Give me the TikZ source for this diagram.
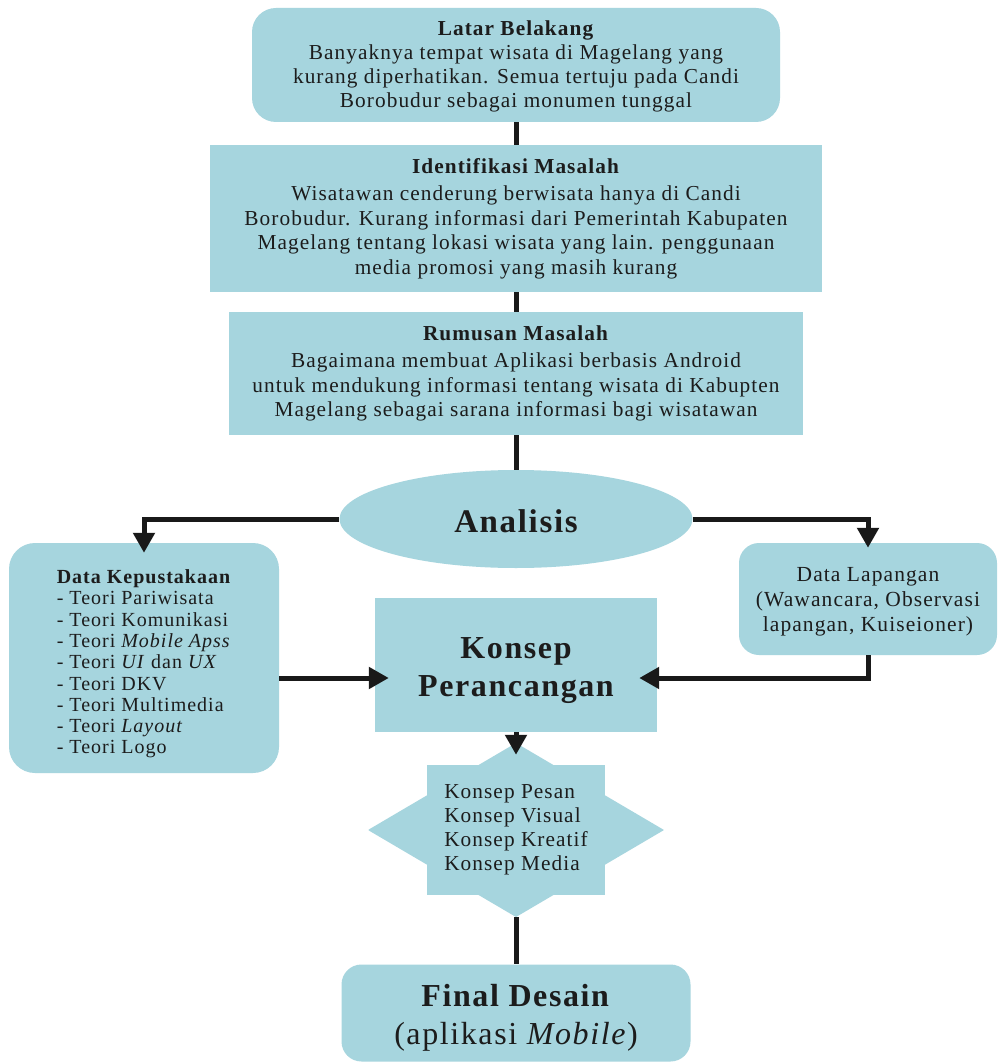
\documentclass[tikz,border=0pt]{standalone}
\usepackage{fontspec}
\setmainfont{Liberation Serif}[LetterSpace=5]
\usetikzlibrary{shapes.geometric,arrows.meta,calc}
\definecolor{boxblue}{RGB}{166,213,222}
\definecolor{ink}{RGB}{28,28,28}
\begin{document}
\begin{tikzpicture}[x=1pt,y=-1pt,
  base/.style={fill=boxblue, inner sep=0pt},
  txt/.style={text=ink, inner sep=0pt, align=center},
  main/.style={txt, font=\fontsize{21.3}{24.5}\selectfont},
  big/.style={txt, font=\fontsize{32}{38}\selectfont},
  conn/.style={line width=5pt, draw=black!90},
  arr/.style={conn, -{Triangle[width=21pt,length=20pt]}}]
\useasboundingbox[fill=white] (0,0) rectangle (997,1064);

% boxes
\node[base, rounded corners=24pt, minimum width=528pt, minimum height=114pt] (b1) at (516,65) {};
\node[base, minimum width=612pt, minimum height=147pt] (b2) at (516,218.5) {};
\node[base, minimum width=574pt, minimum height=123pt] (b3) at (516,373.5) {};
\node[base, ellipse, minimum width=353pt, minimum height=98pt] (ana) at (516,519) {};
\node[base, rounded corners=26pt, minimum width=270pt, minimum height=230pt] (kep) at (144,658) {};
\node[base, rounded corners=20pt, minimum width=258pt, minimum height=112pt] (lap) at (868,599) {};
\node[base, minimum width=282pt, minimum height=134pt] (kp) at (516,665) {};
\node[base, fill=none, minimum width=295pt, minimum height=174pt,
  path picture={
    \coordinate (c) at (path picture bounding box.center);
    \fill[boxblue] ($(c)+(-89,-65)$) rectangle ($(c)+(89,65)$);
    \fill[boxblue] ($(c)+(0,-87)$) -- ($(c)+(148,0)$) -- ($(c)+(0,87)$) -- ($(c)+(-148,0)$) -- cycle;
  }] (star) at (516,830) {};
\node[base, rounded corners=20pt, minimum width=349pt, minimum height=97pt] (fin) at (516,1013) {};

% texts
\node[main, font=\fontsize{21.3}{24}\selectfont] (b1t) at ($(b1)+(0,1)$)
  {\textbf{Latar Belakang}\\Banyaknya tempat wisata di Magelang yang\\kurang diperhatikan. Semua tertuju pada Candi\\Borobudur sebagai monumen tunggal};
\node[main] (b2t) at (b2)
  {\textbf{Identifikasi Masalah}\\[3pt]Wisatawan cenderung berwisata hanya di Candi\\Borobudur. Kurang informasi dari Pemerintah Kabupaten\\Magelang tentang lokasi wisata yang lain. penggunaan\\media promosi yang masih kurang};
\node[main] (b3t) at (b3)
  {\textbf{Rumusan Masalah}\\[3pt]Bagaimana membuat Aplikasi berbasis Android\\untuk mendukung informasi tentang wisata di Kabupten\\Magelang sebagai sarana informasi bagi wisatawan};
\node[txt, font=\bfseries\fontsize{33}{38}\selectfont] (anat) at ($(ana)+(0,2)$) {Analisis};
\node[txt, align=left, font=\fontsize{20}{21.3}\selectfont] (kept) at ($(kep)+(0,6)$)
  {\textbf{Data Kepustakaan}\\- Teori Pariwisata\\- Teori Komunikasi\\- Teori \textit{Mobile Apss}\\- Teori \textit{UI} dan \textit{UX}\\- Teori DKV\\- Teori Multimedia\\- Teori \textit{Layout}\\- Teori Logo};
\node[txt, font=\fontsize{21.5}{25}\selectfont] (lapt) at ($(lap)+(0,3)$)
  {Data Lapangan\\(Wawancara, Observasi\\lapangan, Kuiseioner)};
\node[big, font=\bfseries\fontsize{32}{38}\selectfont] (kpt) at ($(kp)+(0,6)$)
  {Konsep\\Perancangan};
\node[txt, align=left, font=\fontsize{21.3}{24}\selectfont] (start) at (star)
  {Konsep Pesan\\Konsep Visual\\Konsep Kreatif\\Konsep Media};
\node[big] (fint) at ($(fin)+(0,5)$)
  {\textbf{Final Desain}\\(aplikasi \textit{Mobile})};

% connectors
\draw[conn] (b1.south) -- (b2.north);
\draw[conn] (b2.south) -- (b3.north);
\draw[conn] (b3.south) -- (ana.north);
\draw[arr, shorten >=-10pt] (ana.west) -| (kep.north);
\draw[arr, shorten >=-5pt] (ana.east) -| (lap.north);
\coordinate (m) at (516,678);
\draw[arr, shorten >=-14pt] (kep.east |- m) -- (kp.west |- m);
\draw[arr, shorten >=-18pt] (lap.south) |- (kp.east |- m);
\draw[arr, shorten >=-12pt] (kp.south) -- (star.north);
\draw[conn] (star.south) -- (fin.north);
\end{tikzpicture}
\end{document}
